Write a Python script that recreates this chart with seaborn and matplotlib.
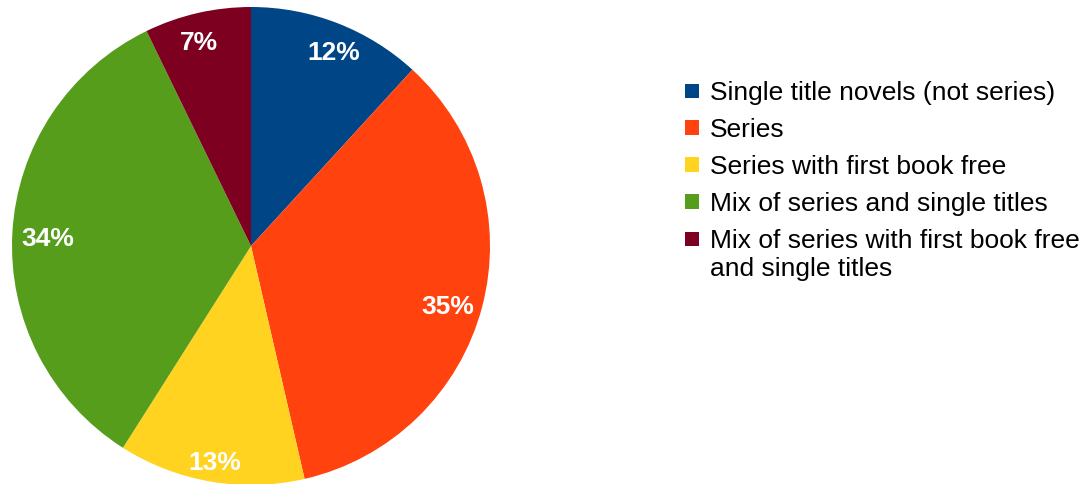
import matplotlib
matplotlib.use("Agg")
import matplotlib.pyplot as plt
from matplotlib.patches import Patch, Rectangle
from matplotlib.legend_handler import HandlerPatch
import numpy as np
import seaborn as sns

# Share of authors by publishing approach (percent)
categories = [
    "Single title novels (not series)",
    "Series",
    "Series with first book free",
    "Mix of series and single titles",
    "Mix of series with first book free\nand single titles",
]
shares = [11.8, 34.6, 12.6, 33.8, 7.2]
colors = ["#004586", "#ff420e", "#ffd320", "#579d1c", "#7e0021"]

sns.set_theme(style="white")
plt.rcParams["font.family"] = ["Liberation Sans", "DejaVu Sans"]

W, H = 1088, 484
fig = plt.figure(figsize=(W / 100, H / 100), dpi=100)

# Pie axes: centre (251, 246) px, radius 239 px
cx, cy, r = 251, 246, 239
ax = fig.add_axes([(cx - r) / W, (H - cy - r) / H, 2 * r / W, 2 * r / H])

wedges, _, autotexts = ax.pie(
    shares,
    colors=colors,
    startangle=90,
    counterclock=False,
    radius=1.0,
    autopct="%.0f%%",
    pctdistance=0.87,
    wedgeprops=dict(linewidth=0),
    textprops=dict(color="white", fontweight="bold", fontsize=19),
)

# Percentage labels sit just inside the rim; horizontal ones pulled in a bit
label_radius = [0.889, 0.858, 0.909, 0.85, 0.885]
label_nudge_deg = [-1.6, -1.9, 0.2, 0.6, 1.2]
for w, t, lr, nd in zip(wedges, autotexts, label_radius, label_nudge_deg):
    mid = np.deg2rad((w.theta1 + w.theta2) / 2 + nd)
    t.set_position((lr * np.cos(mid), lr * np.sin(mid)))
    t.set_va("center_baseline")

ax.set_xlim(-1, 1)
ax.set_ylim(-1, 1)
ax.set_aspect("equal")
ax.axis("off")

FS = 19
LS = 1.22


class SquareHandler(HandlerPatch):
    """Square swatch aligned with the first line of a wrapped label."""

    def __init__(self, lines=1, **kw):
        super().__init__(**kw)
        self.lines = lines

    def create_artists(self, legend, orig_handle, xdescent, ydescent,
                       width, height, fontsize, trans):
        side = 0.55 * fontsize
        shift = 0.5 * (self.lines - 1) * LS * fontsize
        y = -ydescent + (height - side) / 2 + shift
        p = Rectangle((-xdescent + (width - side) / 2, y), side, side,
                      facecolor=orig_handle.get_facecolor(), edgecolor="none")
        p.set_transform(trans)
        return [p]


handles = [Patch(facecolor=c, edgecolor="none") for c in colors]
handler_map = {h: SquareHandler(lines=lab.count("\n") + 1)
               for h, lab in zip(handles, categories)}
leg = fig.legend(
    handles,
    categories,
    handler_map=handler_map,
    loc="upper left",
    bbox_to_anchor=(682 / W, 1 - 81 / H),
    frameon=False,
    fontsize=FS,
    labelcolor="black",
    handlelength=0.75,
    handleheight=0.75,
    handletextpad=0.3,
    labelspacing=0.49,
    borderaxespad=0,
    borderpad=0,
)
for t in leg.get_texts():
    t.set_linespacing(LS)

fig.savefig("out.png", dpi=100, facecolor="white")
